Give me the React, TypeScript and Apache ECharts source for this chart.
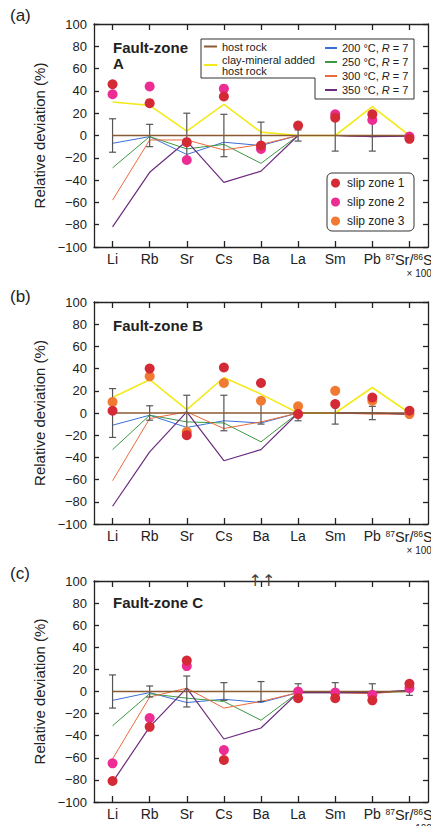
import React, { useEffect, useRef } from 'react';
import * as echarts from 'echarts';

const categories = ['Li', 'Rb', 'Sr', 'Cs', 'Ba', 'La', 'Sm', 'Pb', '87Sr/86Sr'];
const yTicks = { min: -100, max: 100, interval: 20 };

// Panel A
const hostA = [0, 0, 0, 0, 0, 0, 0, 0, 0];
const hostErrA = [15, 10, 20, 19, 12, 5, 14, 14, 1.5];
const clayA = [30, 27, 4, 28, 3, 0, 0, 26, 0];
const t200A = [-7, -1, -17, -6, -9, 0, 0, -1, 0];
const t250A = [-29, -1, -12, -8, -25, 0, 0, 0, 0];
const t300A = [-58, -4, -4, -13, -8, 0, 0, -1, 0];
const t350A = [-82, -33, -5, -42, -32, 0, 0, -1, -0.5];
const sz1A = [46, 29, -6, 35, -9, 9, 16, 19, -3];
const sz2A = [37, 44, -22, 42, -12, null, 19, 14, -1];

// Panel B
const hostB = [0, 0, 0, 0, 0, 0, 0, 0, 0];
const hostErrB = [22, 6.5, 16, 16, 10, 7, 10, 6, 1.5];
const clayB = [14, 30, 3, 32, 17, 0, 0, 23, 0];
const t200B = [-11, -2, -13, -7, -9, 0, 0, 0, -1];
const t250B = [-33, -2, -8, -9, -26, 0, 0, 0, -1];
const t300B = [-61, -5, 1, -14, -8, 0, 0, -1, -1];
const t350B = [-84, -35, 1, -43, -33, 0, 0, 0, -1];
const sz1B = [2, 40, -20, 41, 27, -1, 8, 14, 2];
const sz3B = [10, 33, -17, 27, 11, 6, 20, 11, -1];

// Panel C
const hostC = [0, 0, 0, 0, 0, 0, 0, 0, 0];
const hostErrC = [15, 5, 14, 8, 9, 7, 8, 7, 3.5];
const t200C = [-8, -1, -10, -7, -10, -1, -1, -1, 1];
const t250C = [-31, -2, -6, -9, -26, -1, -1, -1, 0];
const t300C = [-61, -5, 3, -15, -9, -1, -1, -2, 1];
const t350C = [-82, -32, 3, -43, -33, -1, -1, -1, 1];
const sz1C = [-81, -32, 28, -62, null, -6, -6, -8, 7];
const sz2C = [-65, -24, 23, -53, null, 0, -1, -3, 3];
const offScaleC = ['Ba'];

const FONT = '"Liberation Sans", Arial, Helvetica, sans-serif';
const INK = '#222';
const C = {
  host: '#8a5a32',
  clay: '#f3ea1c',
  t200: '#3b6fd6',
  t250: '#3c9a44',
  t300: '#ec6a3c',
  t350: '#6b2c7e',
  sz1: '#d42a36',
  sz2: '#ec2d93',
  sz3: '#f07a32',
  err: '#555',
};
const N = {
  host: 'host rock',
  clay: 'clay-mineral added host rock',
  t200: '200 °C, R = 7',
  t250: '250 °C, R = 7',
  t300: '300 °C, R = 7',
  t350: '350 °C, R = 7',
  sz1: 'slip zone 1',
  sz2: 'slip zone 2',
  sz3: 'slip zone 3',
};

const panels = [
  { top: 24, height: 223, host: hostA, err: hostErrA, clay: clayA, t200: t200A, t250: t250A, t300: t300A, t350: t350A, sz: [['sz2', sz2A], ['sz1', sz1A]] },
  { top: 302, height: 222, host: hostB, err: hostErrB, clay: clayB, t200: t200B, t250: t250B, t300: t300B, t350: t350B, sz: [['sz3', sz3B], ['sz1', sz1B]] },
  { top: 581, height: 221, host: hostC, err: hostErrC, clay: null, t200: t200C, t250: t250C, t300: t300C, t350: t350C, sz: [['sz2', sz2C], ['sz1', sz1C]] },
];

function buildOption() {
  const grid: any[] = [];
  const xAxis: any[] = [];
  const yAxis: any[] = [];
  const series: any[] = [];
  const axisLine = { show: true, onZero: false, lineStyle: { color: INK, width: 1.3 } };
  const tick = (len: number) => ({ show: true, inside: true, length: len, lineStyle: { color: INK, width: 1.3 } });

  panels.forEach((p, i) => {
    grid.push({ left: 94, right: 3, top: p.top, height: p.height, containLabel: false, outerBoundsMode: 'none' });
    xAxis.push({
      type: 'category', gridIndex: i, data: categories, boundaryGap: true, position: 'bottom',
      axisLine, axisTick: { ...tick(6), alignWithLabel: true, interval: 0 },
      axisLabel: {
        interval: 0, hideOverlap: false,
        color: INK, fontSize: 14, fontFamily: FONT, margin: 5,
        formatter: (v: string) => v === '87Sr/86Sr' ? '{sup0|87}{n|Sr/}{sup|86}{n|Sr}\n{m|× 1000}' : v,
        rich: {
          n: { fontSize: 14.5, color: INK, fontFamily: FONT, lineHeight: 16 },
          sup0: { fontSize: 8.5, color: INK, fontFamily: FONT, verticalAlign: 'top', lineHeight: 10, padding: [0, 0, 0, 4] },
          sup: { fontSize: 8.5, color: INK, fontFamily: FONT, verticalAlign: 'top', lineHeight: 10 },
          m: { fontSize: 10, color: INK, fontFamily: FONT, align: 'right', lineHeight: 11 },
        },
      },
      splitLine: { show: false },
    });
    xAxis.push({
      type: 'category', gridIndex: i, data: categories, boundaryGap: true, position: 'top',
      axisLine, axisTick: { ...tick(6), alignWithLabel: true, interval: 0 }, axisLabel: { show: false, interval: 0 }, splitLine: { show: false },
    });
    yAxis.push({
      type: 'value', gridIndex: i, ...yTicks, position: 'left',
      axisLine, axisTick: tick(5),
      axisLabel: { color: INK, fontSize: 13, fontFamily: FONT, margin: 7, formatter: (v: number) => String(v).replace('-', '−') },
      splitLine: { show: false },
      name: 'Relative deviation (%)', nameLocation: 'middle', nameGap: 39,
      nameTextStyle: { color: INK, fontSize: 15, fontFamily: FONT },
    });
    yAxis.push({
      type: 'value', gridIndex: i, ...yTicks, position: 'right',
      axisLine, axisTick: tick(5), axisLabel: { show: false }, splitLine: { show: false },
    });
    const xi = 2 * i, yi = 2 * i;
    const line = (key: string, data: any, width: number, z = 2) => ({
      type: 'line', name: (N as any)[key], xAxisIndex: xi, yAxisIndex: yi, data,
      symbol: 'none', lineStyle: { color: (C as any)[key], width }, itemStyle: { color: (C as any)[key] }, z,
    });
    series.push(line('t200', p.t200, 1));
    series.push(line('t250', p.t250, 1));
    series.push(line('t300', p.t300, 1));
    series.push(line('t350', p.t350, 1.2));
    if (p.clay) series.push(line('clay', p.clay, 1.6));
    series.push({
      type: 'custom', name: 'host rock error', xAxisIndex: xi, yAxisIndex: yi, z: 3,
      data: p.err.map((e, k) => [k, p.host[k], e]),
      encode: { x: 0, y: 1 },
      renderItem: (params: any, api: any) => {
        const x = api.value(0), v = api.value(1), e = api.value(2);
        const a = api.coord([x, v + e]);
        const b = api.coord([x, v - e]);
        const st = { stroke: C.err, lineWidth: 1.2 };
        const hw = 3.5;
        return {
          type: 'group', children: [
            { type: 'line', shape: { x1: a[0], y1: a[1], x2: b[0], y2: b[1] }, style: st },
            { type: 'line', shape: { x1: a[0] - hw, y1: a[1], x2: a[0] + hw, y2: a[1] }, style: st },
            { type: 'line', shape: { x1: b[0] - hw, y1: b[1], x2: b[0] + hw, y2: b[1] }, style: st },
          ],
        };
      },
    });
    series.push(line('host', p.host, 1.7, 4));
    p.sz.forEach(([key, data]: any, k: number) => {
      const s: any = {
        type: 'scatter', name: (N as any)[key], xAxisIndex: xi, yAxisIndex: yi, data,
        symbol: 'circle', symbolSize: 10, itemStyle: { color: (C as any)[key], opacity: 1 }, z: 10 + k,
      };
      if (i === 2 && k === 0) {
        s.markPoint = {
          symbol: 'circle', symbolSize: 1, itemStyle: { color: 'rgba(0,0,0,0)' },
          data: offScaleC.map((c) => ({ coord: [c, 100] })),
          label: { show: true, position: 'inside', formatter: '↑↑', color: '#444', fontSize: 16, fontFamily: '"DejaVu Sans", sans-serif', offset: [1, -1] },
        };
      }
      series.push(s);
    });
  });

  const legendBase = { selectedMode: false, padding: 0, z: 6, textStyle: { color: INK, fontFamily: FONT } };

  const legend = [
    {
      ...legendBase, orient: 'vertical', left: 204, top: 41, icon: 'rect', itemWidth: 13, itemHeight: 2, itemGap: 2,
      data: [N.host, N.clay],
      formatter: (n: string) => (n === N.clay ? 'clay-mineral added\nhost rock' : n),
      textStyle: { ...legendBase.textStyle, fontSize: 11, lineHeight: 11 },
    },
    {
      ...legendBase, orient: 'vertical', left: 325, top: 41, icon: 'rect', itemWidth: 12, itemHeight: 2, itemGap: 0,
      data: [N.t200, N.t250, N.t300, N.t350],
      formatter: (n: string) => n.replace('R', '{i|R}'),
      textStyle: { ...legendBase.textStyle, fontSize: 11, lineHeight: 14, rich: { i: { fontStyle: 'italic', fontSize: 11, color: INK, fontFamily: FONT } } },
    },
    {
      ...legendBase, orient: 'vertical', left: 331, top: 176, icon: 'circle', itemWidth: 13, itemHeight: 9, itemGap: 5,
      data: [N.sz1, N.sz2, N.sz3],
      textStyle: { ...legendBase.textStyle, fontSize: 12, lineHeight: 14 },
    },
  ];

  const txt = (left: number, top: number, text: string, fontSize: number, bold = false, lineHeight?: number) => ({
    type: 'text', left, top, z: 7,
    style: { text, fontSize, fontWeight: bold ? 'bold' : 'normal', fill: INK, fontFamily: FONT, lineHeight: lineHeight || fontSize + 2 },
  });

  const graphic = [
    {
      type: 'polygon', z: 3,
      shape: { points: [[201, 39], [414, 39], [414, 99], [315, 99], [315, 78], [201, 78]] },
      style: { fill: '#fff', stroke: '#333', lineWidth: 1 },
    },
    { type: 'rect', z: 3, shape: { x: 327, y: 173, width: 87, height: 58, r: 5 }, style: { fill: '#fff', stroke: '#333', lineWidth: 1 } },
    txt(10, 6, '(a)', 17),
    txt(10, 287, '(b)', 17),
    txt(10, 564, '(c)', 17),
    txt(113, 39, 'Fault-zone\nA', 15, true, 16),
    txt(113, 317, 'Fault-zone B', 15, true),
    txt(113, 594, 'Fault-zone C', 15, true),
  ];

  return {
    animation: false,
    backgroundColor: '#fff',
    textStyle: { fontFamily: FONT },
    grid, xAxis, yAxis, series, legend, graphic,
  };
}

export default function App() {
  const ref = useRef<HTMLDivElement>(null);
  useEffect(() => {
    const chart = echarts.init(ref.current!, null, { renderer: 'svg', width: 431, height: 826 });
    chart.setOption(buildOption() as any);
    return () => chart.dispose();
  }, []);
  return <div ref={ref} style={{ position: 'fixed', left: 0, top: 0, width: 431, height: 826, overflow: 'hidden' }} />;
}
